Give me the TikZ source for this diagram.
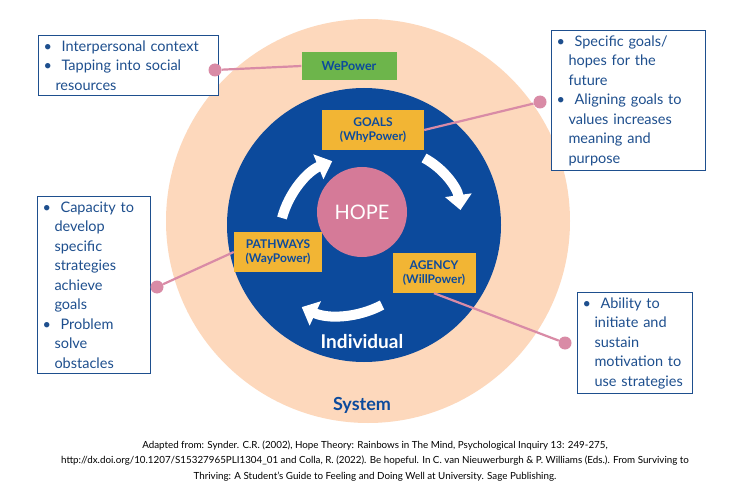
\documentclass[tikz,border=0pt]{standalone}
\usepackage{fontspec}
\setmainfont{Lato}
\usetikzlibrary{arrows.meta}
\definecolor{peach}{HTML}{FDD8BC}
\definecolor{dblue}{HTML}{0C4A9C}
\definecolor{tblue}{HTML}{1E4F8E}
\definecolor{hpink}{HTML}{D57A98}
\definecolor{lpink}{HTML}{D98BA6}
\definecolor{gold}{HTML}{F2B534}
\definecolor{wgreen}{HTML}{6DB54B}
\tikzset{
 ybox/.style={fill=gold,text=dblue,font=\fontsize{12}{14}\selectfont\bfseries,align=center,inner sep=0pt},
 infobox/.style={draw=tblue,line width=1pt,fill=white,text=tblue,font=\fontsize{14.5}{19.5}\selectfont,align=left,anchor=north west,inner sep=5pt},
 conn/.style={lpink,line width=2.2pt},
 dot/.style={circle,fill=lpink,minimum size=13pt,inner sep=0pt},
 warrow/.style={white,line width=10pt,-{Triangle[length=15pt,width=26pt]}},
}
\begin{document}
\begin{tikzpicture}[x=1pt,y=-1pt]
\fill[white] (0,0) rectangle (750,500);
\fill[peach] (368,221) circle (202);
\fill[dblue] (364,225) circle (137);
\node[circle,fill=hpink,minimum size=90pt,text=white,font=\fontsize{20}{24}\selectfont] (hope) at (362,212) {HOPE};
\node[ybox,minimum width=102pt,minimum height=40pt] (goals) at (373,130) {GOALS\\(WhyPower)};
\node[ybox,minimum width=88pt,minimum height=40pt] (path) at (278,252) {PATHWAYS\\(WayPower)};
\node[ybox,minimum width=83pt,minimum height=40pt] (agency) at (434,273) {AGENCY\\(WillPower)};
\node[fill=wgreen,text=dblue,font=\fontsize{12.5}{14}\selectfont\bfseries,minimum width=95pt,minimum height=28pt,inner sep=0pt] (we) at (349,66) {WePower};
\node[text=white,font=\fontsize{19}{22}\selectfont\bfseries] (ind) at (362,342) {Individual};
\node[text=dblue,font=\fontsize{18}{22}\selectfont\bfseries] (sys) at (362,405) {System};
% white arrows
\draw[warrow] (282,218) arc[start angle=195,end angle=248,radius=85];
\draw[warrow] (424,158) arc[start angle=-62,end angle=-8,radius=70] ;
\draw[warrow] (382,305) arc[start angle=62,end angle=115,radius=90];
% info boxes
\node[infobox,text width=170pt] (b1) at (38,35) {• \ Interpersonal context\\• \ Tapping into social\\\hspace*{12pt}resources};
\node[infobox,text width=144pt] (b2) at (551,30) {• \ Specific goals/\\\hspace*{12pt}hopes for the\\\hspace*{12pt}future\\• \ Aligning goals to\\\hspace*{12pt}values increases\\\hspace*{12pt}meaning and\\\hspace*{12pt}purpose};
\node[infobox,text width=103pt] (b3) at (37,196) {• \ Capacity to\\\hspace*{12pt}develop\\\hspace*{12pt}specific\\\hspace*{12pt}strategies\\\hspace*{12pt}achieve\\\hspace*{12pt}goals\\• \ Problem\\\hspace*{12pt}solve\\\hspace*{12pt}obstacles};
\node[infobox,text width=105pt] (b4) at (577,292) {• \ Ability to\\\hspace*{12pt}initiate and\\\hspace*{12pt}sustain\\\hspace*{12pt}motivation to\\\hspace*{12pt}use strategies};
% connectors
\node[dot] (d1) at (215,70) {};
\node[dot] (d2) at (540,102) {};
\node[dot] (d3) at (157,287) {};
\node[dot] (d4) at (565,343) {};
\draw[conn] (d1) -- (we.west);
\draw[conn] (d2) -- (goals.east);
\draw[conn] (d3) -- (path.west);
\draw[conn] (d4) -- (agency.south);
\node[text=black,font=\fontsize{9.8}{15.5}\selectfont,align=center] (cap) at (375,461) {Adapted from: Synder. C.R. (2002), Hope Theory: Rainbows in The Mind, Psychological Inquiry 13: 249-275,\\http://dx.doi.org/10.1207/S15327965PLI1304\_01 and Colla, R. (2022). Be hopeful. In C. van Nieuwerburgh \& P. Williams (Eds.). From Surviving to\\Thriving: A Student's Guide to Feeling and Doing Well at University. Sage Publishing.};
\end{tikzpicture}
\end{document}
